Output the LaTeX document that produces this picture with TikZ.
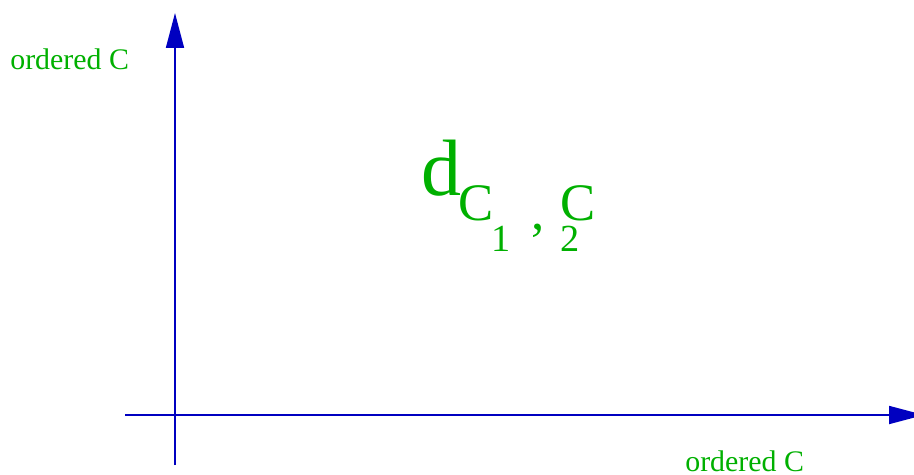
\documentclass[tikz,border=0pt]{standalone}
\usepackage{fontspec}
\setmainfont{Liberation Serif}
\usetikzlibrary{arrows.meta}
\definecolor{AxisBlue}{HTML}{0000C0}
\definecolor{LabelGreen}{HTML}{00B000}

\begin{document}
\begin{tikzpicture}[
  x=0.02cm, y=-0.02cm,
  axis/.style  = {-{Triangle[length=0.7cm, width=0.36cm]}, line width=1pt, AxisBlue},
  lbl/.style   = {anchor=base west, inner sep=0pt, text=LabelGreen},
  axlbl/.style = {lbl, font=\fontsize{17}{20}\selectfont},
  big/.style   = {lbl, font=\fontsize{45.5}{50}\selectfont},
  mid/.style   = {lbl, font=\fontsize{30}{34}\selectfont},
  sml/.style   = {lbl, font=\fontsize{21.8}{25}\selectfont}
]
\clip (0,0) rectangle (914,474);

%% ---- axes ---------------------------------------------------------
\coordinate (ybot) at (175,465);
\coordinate (ytop) at (175,13);
\coordinate (xleft) at (125,415);
\coordinate (xright) at (924,415);

\draw[axis] (ybot) -- (ytop);
\draw[axis] (xleft) -- (xright);

\node[axlbl] (ylabel) at (10,69) {ordered C};
\node[axlbl] (xlabel) at (685,471) {ordered C};

%% ---- distance label, set piece by piece ----------------------------
\node[big] (dd) at (421,195) {d};
\node[mid] (c1) at (458,220) {C};
\node[sml] (one) at (491,251) {1};
\node[mid] (comma) at (531,229) {,};
\node[mid] (c2) at (560,220) {C};
\node[sml] (two) at (560,251) {2};

\end{tikzpicture}
\end{document}
